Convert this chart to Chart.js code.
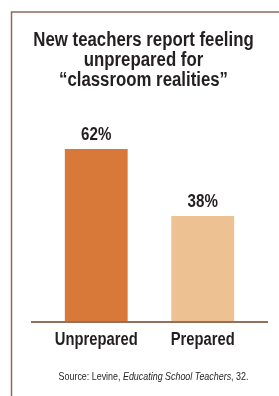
<!DOCTYPE html>
<html>
<head>
<meta charset="utf-8">
<script src="https://cdn.jsdelivr.net/npm/chart.js@4"></script>
<style>
  html, body { margin: 0; padding: 0; background: #ffffff; }
  canvas { display: block; }
</style>
</head>
<body>
<canvas id="c" width="279" height="396"></canvas>
<script>
const categories = ["Unprepared", "Prepared"];
const values = [62, 38];
const valueLabels = ["62%", "38%"];
const barColors = ["#d8793a", "#eec193"];
const titleLines = ["New teachers report feeling", "unprepared for", "\u201cclassroom realities\u201d"];
const sourceParts = [
  { text: "Source: Levine, ", italic: false },
  { text: "Educating School Teachers", italic: true },
  { text: ", 32.", italic: false }
];

const FONT = '"Liberation Sans", Arial, sans-serif';
const INK = "#231f20";
const FRAME = "#8e6a57";

// draws horizontally condensed text at x,y
function drawText(ctx, text, x, y, font, sx, align) {
  ctx.save();
  ctx.font = font;
  ctx.textBaseline = "middle";
  ctx.textAlign = align || "center";
  ctx.translate(x, y);
  ctx.scale(sx, 1);
  ctx.fillText(text, 0, 0);
  ctx.restore();
}
function textWidth(ctx, text, font, sx) {
  ctx.save();
  ctx.font = font;
  const w = ctx.measureText(text).width * sx;
  ctx.restore();
  return w;
}

const decorPlugin = {
  id: "decor",
  beforeDraw(chart) {
    const ctx = chart.ctx;
    ctx.save();
    ctx.fillStyle = "#ffffff";
    ctx.fillRect(0, 0, chart.width, chart.height);
    ctx.restore();
  },
  afterDraw(chart) {
    const ctx = chart.ctx;
    const area = chart.chartArea;
    ctx.save();
    // frame (top + left rule)
    ctx.strokeStyle = FRAME;
    ctx.lineWidth = 1.5;
    ctx.beginPath();
    ctx.moveTo(chart.width, 12);
    ctx.lineTo(11.5, 12);
    ctx.lineTo(11.5, chart.height);
    ctx.stroke();

    ctx.fillStyle = INK;
    // title
    const tFont = "bold 20px " + FONT;
    titleLines.forEach((t, i) => drawText(ctx, t, 143.5, 40 + i * 20, tFont, 0.84));

    // baseline axis
    const y0 = chart.scales.y.getPixelForValue(0);
    ctx.strokeStyle = "#94705b";
    ctx.lineWidth = 2;
    ctx.beginPath();
    ctx.moveTo(area.left - 12, y0);
    ctx.lineTo(area.right + 12, y0);
    ctx.stroke();

    // value labels and category labels
    const meta = chart.getDatasetMeta(0);
    const vFont = "bold 18px " + FONT;
    const cFont = "bold 18px " + FONT;
    meta.data.forEach((bar, i) => {
      drawText(ctx, valueLabels[i], bar.x, bar.y - 14, vFont, 0.84);
      const cx = chart.scales.x.getPixelForValue(i);
      drawText(ctx, categories[i], cx, y0 + 18, cFont, 0.82);
    });

    // source line with italic title
    const fN = "11px " + FONT;
    const fI = "italic 11px " + FONT;
    const sx = 0.81;
    let total = 0;
    sourceParts.forEach(p => { total += textWidth(ctx, p.text, p.italic ? fI : fN, sx); });
    let x = 153.5 - total / 2;
    sourceParts.forEach(p => {
      const f = p.italic ? fI : fN;
      drawText(ctx, p.text, x, 377, f, sx, "left");
      x += textWidth(ctx, p.text, f, sx);
    });
    ctx.restore();
  }
};

new Chart(document.getElementById("c"), {
  type: "bar",
  data: {
    labels: categories,
    datasets: [{
      data: values,
      backgroundColor: barColors,
      borderWidth: 0,
      barPercentage: 0.59,
      categoryPercentage: 1.0
    }]
  },
  options: {
    responsive: false,
    animation: false,
    events: [],
    layout: { padding: { top: 149, bottom: 74, left: 43, right: 23 } },
    plugins: {
      legend: { display: false },
      title: { display: false },
      tooltip: { enabled: false }
    },
    scales: {
      x: { display: false },
      y: { display: false, min: 0, max: 62 }
    }
  },
  plugins: [decorPlugin]
});
</script>
</body>
</html>
